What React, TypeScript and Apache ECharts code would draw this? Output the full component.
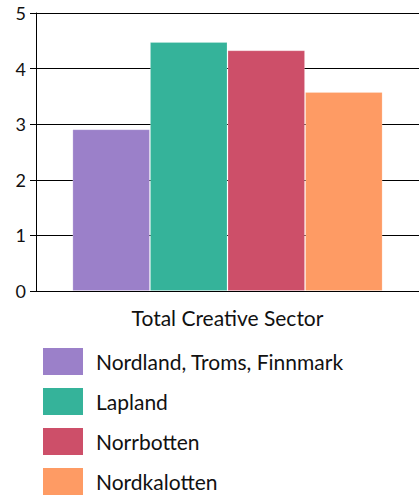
import React, { useEffect, useRef } from "react";
import * as echarts from "echarts";

const categories = ["Total Creative Sector"];
const seriesNames = ["Nordland, Troms, Finnmark", "Lapland", "Norrbotten", "Nordkalotten"];
const seriesValues = [[2.91], [4.48], [4.33], [3.58]];
const colors = ["#9b80c9", "#35b39a", "#cd4f69", "#fe9b64"];
const yTicks = { min: 0, max: 5, interval: 1 };

export default function App() {
  const ref = useRef<HTMLDivElement>(null);
  useEffect(() => {
    if (!ref.current) return;
    const chart = echarts.init(ref.current, null, { renderer: "svg" });
    const font = "Lato, 'Open Sans', sans-serif";
    chart.setOption({
      animation: false,
      textStyle: { fontFamily: font },
      grid: { left: 36, top: 13, right: 0, bottom: 204, containLabel: false },
      legend: {
        orient: "vertical",
        left: 43,
        top: 348,
        height: 260,
        padding: 0,
        itemWidth: 40,
        itemHeight: 27,
        itemGap: 13,
        icon: "rect",
        itemStyle: { borderWidth: 0 },
        textStyle: { fontSize: 21, lineHeight: 25, height: 25, color: "#111", fontFamily: font, padding: [0, 0, 0, 8] },
        data: seriesNames,
      },
      xAxis: {
        type: "category",
        data: categories,
        axisLine: { show: true, lineStyle: { color: "#000", width: 1 } },
        axisTick: { show: false },
        axisLabel: { fontSize: 21, color: "#111", margin: 16, fontFamily: font },
      },
      yAxis: {
        type: "value",
        min: yTicks.min,
        max: yTicks.max,
        interval: yTicks.interval,
        axisLine: { show: true, lineStyle: { color: "#000", width: 1 } },
        axisTick: { show: true, length: 6, lineStyle: { color: "#000" } },
        axisLabel: { fontSize: 18, color: "#111", margin: 10, fontFamily: font },
        splitLine: { show: true, lineStyle: { color: "#000", width: 1 } },
      },
      series: seriesNames.map((name, i) => ({
        name,
        type: "bar",
        data: seriesValues[i],
        barGap: "0%",
        barCategoryGap: "19%",
        itemStyle: { color: colors[i], borderColor: "rgba(255,255,255,0.2)", borderWidth: 1 },
      })),
    });
    return () => chart.dispose();
  }, []);
  return (
    <div
      ref={ref}
      style={{ position: "fixed", left: 0, top: 0, width: 419, height: 495, background: "#fff" }}
    />
  );
}
